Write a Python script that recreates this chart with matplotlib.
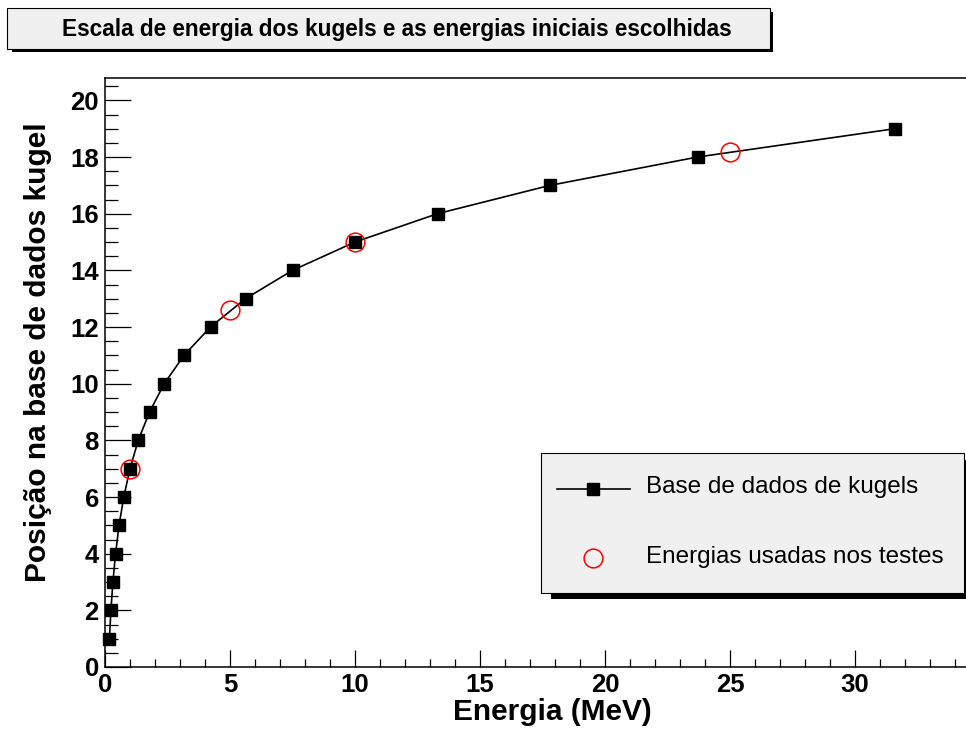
import matplotlib
matplotlib.use("Agg")
import matplotlib.pyplot as plt
from matplotlib.patches import Rectangle
from matplotlib.lines import Line2D
from matplotlib.ticker import MultipleLocator

plt.rcParams['font.family'] = ['Liberation Sans', 'DejaVu Sans']

# kugel database: energy (MeV) vs position
kugel_energy = [0.178, 0.237, 0.316, 0.422, 0.562, 0.750, 1.00, 1.33, 1.78, 2.37,
                3.16, 4.22, 5.62, 7.50, 10.0, 13.3, 17.8, 23.7, 31.6]
kugel_pos = [1, 2, 3, 4, 5, 6, 7, 8, 9, 10, 11, 12, 13, 14, 15, 16, 17, 18, 19]

# energies used in the tests
test_energy = [1.0, 5.0, 10.0, 25.0]
test_pos = [7.0, 12.59, 15.0, 18.18]

title = "Escala de energia dos kugels e as energias iniciais escolhidas"
xlabel = "Energia (MeV)"
ylabel = "Posição na base de dados kugel"
legend_labels = ["Base de dados de kugels", "Energias usadas nos testes"]

W, H = 966, 729


def fx(px):
    return px / W


def fy(py):
    return 1 - py / H


fig = plt.figure(figsize=(W / 100, H / 100), dpi=100)
ax = fig.add_axes([fx(105), fy(667), fx(974) - fx(105), fy(77.7) - fy(667)])

ax.plot(kugel_energy, kugel_pos, color='black', lw=1.2, marker='s', ms=8,
        mfc='black', mec='black', zorder=3, clip_on=False)
ax.plot(test_energy, test_pos, ls='none', marker='o', ms=13.5, mfc='none',
        mec='red', mew=1.1, zorder=4, clip_on=False)

ax.set_xlim(0, 34.76)
ax.set_ylim(0, 20.8)
ax.xaxis.set_major_locator(MultipleLocator(5))
ax.xaxis.set_minor_locator(MultipleLocator(1))
ax.yaxis.set_major_locator(MultipleLocator(2))
ax.yaxis.set_minor_locator(MultipleLocator(0.5))

for s in ax.spines.values():
    s.set_linewidth(1.1)
ax.tick_params(axis='both', which='both', direction='in', top=False, right=False,
               width=0.9, labelsize=18.5, pad=4.5)
ax.tick_params(axis='x', which='major', length=12.2)
ax.tick_params(axis='x', which='minor', length=6.1)
ax.tick_params(axis='y', which='major', length=18.7)
ax.tick_params(axis='y', which='minor', length=9.4)
for lab in ax.get_xticklabels() + ax.get_yticklabels():
    lab.set_fontweight('bold')

fig.text(fx(552), fy(712), xlabel, ha='center', va='center', fontsize=21.5,
         fontweight='bold')
fig.text(fx(38), fy(352), ylabel, ha='center', va='center', fontsize=21.5,
         fontweight='bold', rotation=90)

# title box with shadow
fig.add_artist(Rectangle((fx(12), fy(52)), fx(773) - fx(12), fy(12) - fy(52),
                         transform=fig.transFigure, facecolor='black', edgecolor='none'))
fig.add_artist(Rectangle((fx(7), fy(49)), fx(770) - fx(7), fy(8) - fy(49),
                         transform=fig.transFigure, facecolor='#f0f0f0',
                         edgecolor='black', lw=0.8))
fig.text(fx(397), fy(36), title, ha='center', va='baseline', fontsize=16.3,
         fontweight='bold')

# legend box with shadow
fig.add_artist(Rectangle((fx(551), fy(599)), fx(972) - fx(551), fy(460) - fy(599),
                         transform=fig.transFigure, facecolor='black', edgecolor='none'))
fig.add_artist(Rectangle((fx(541), fy(593)), fx(964) - fx(541), fy(453) - fy(593),
                         transform=fig.transFigure, facecolor='#f0f0f0',
                         edgecolor='black', lw=0.8))
fig.add_artist(Line2D([fx(557), fx(630)], [fy(489), fy(489)], transform=fig.transFigure,
                      color='black', lw=1.2))
fig.add_artist(Line2D([fx(593)], [fy(489)], transform=fig.transFigure, ls='none',
                      marker='s', ms=8, mfc='black', mec='black'))
fig.add_artist(Line2D([fx(593)], [fy(558)], transform=fig.transFigure, ls='none',
                      marker='o', ms=13.5, mfc='none', mec='red', mew=1.1))
fig.text(fx(646), fy(493), legend_labels[0], ha='left', va='baseline', fontsize=17.5)
fig.text(fx(646), fy(563), legend_labels[1], ha='left', va='baseline', fontsize=17.5)

fig.savefig("out.png", dpi=100)
